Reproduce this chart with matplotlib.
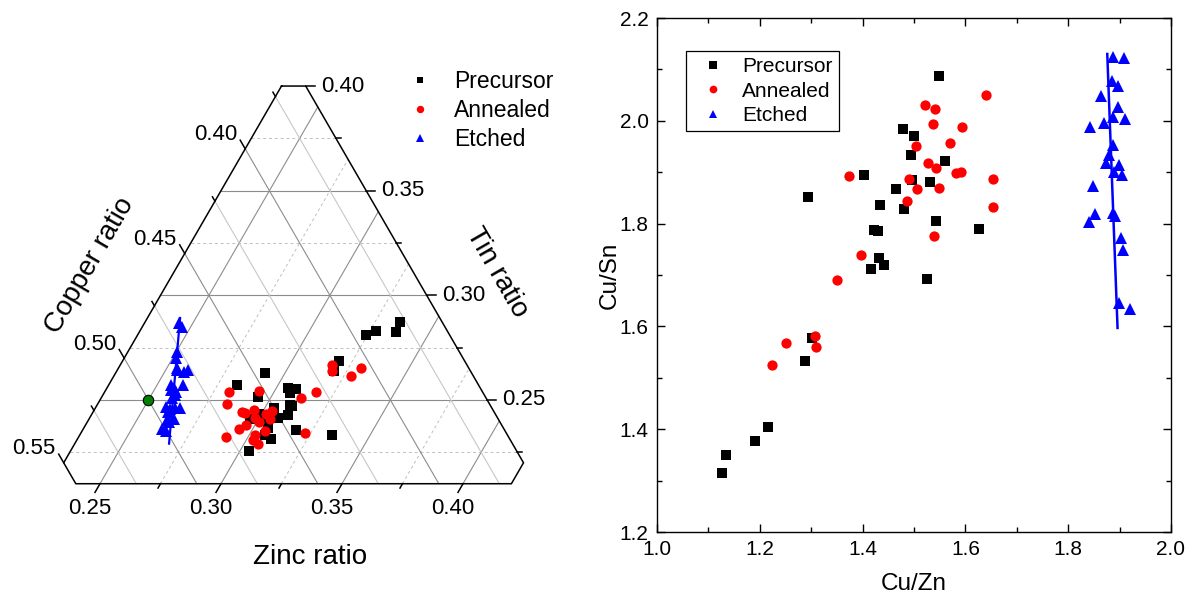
import numpy as np
import matplotlib
matplotlib.use('Agg')
import matplotlib.pyplot as plt
from matplotlib.lines import Line2D

plt.rcParams['font.family'] = ['Liberation Sans', 'DejaVu Sans']

# Cu/Zn and Cu/Sn ratios of the films
pre_cu_zn = [1.126, 1.135, 1.190, 1.216, 1.288, 1.301, 1.293, 1.403, 1.416, 1.432, 1.441, 1.422, 1.429,
             1.434, 1.465, 1.480, 1.478, 1.500, 1.494, 1.496, 1.532, 1.526, 1.543, 1.560, 1.549, 1.626]
pre_cu_sn = [1.314, 1.349, 1.377, 1.404, 1.533, 1.578, 1.852, 1.895, 1.711, 1.734, 1.719, 1.787, 1.786,
             1.837, 1.867, 1.829, 1.984, 1.971, 1.934, 1.884, 1.881, 1.692, 1.806, 1.922, 2.087, 1.790]
ann_cu_zn = [1.224, 1.251, 1.307, 1.310, 1.351, 1.374, 1.397, 1.487, 1.490, 1.505, 1.504, 1.521, 1.528,
             1.536, 1.541, 1.543, 1.549, 1.539, 1.571, 1.582, 1.592, 1.594, 1.640, 1.654, 1.653]
ann_cu_sn = [1.525, 1.568, 1.582, 1.559, 1.690, 1.892, 1.739, 1.843, 1.886, 1.867, 1.951, 2.031, 1.917,
             1.993, 2.022, 1.908, 1.869, 1.776, 1.956, 1.899, 1.901, 1.987, 2.050, 1.887, 1.832]
etc_cu_zn = [1.840, 1.853, 1.849, 1.843, 1.864, 1.869, 1.874, 1.879, 1.885, 1.888, 1.896, 1.909, 1.896,
             1.888, 1.910, 1.888, 1.899, 1.904, 1.890, 1.887, 1.892, 1.903, 1.906, 1.899, 1.921]
etc_cu_sn = [1.803, 1.818, 1.873, 1.987, 2.049, 1.995, 1.917, 1.934, 2.077, 2.125, 2.067, 2.123, 2.027,
             2.008, 2.003, 1.953, 1.914, 1.894, 1.901, 1.821, 1.814, 1.772, 1.748, 1.646, 1.634]
# linear fits of the etched films
fit_cu_zn = [1.876, 1.896]
fit_cu_sn = [2.130, 1.597]
tern_fit_cu_zn = [1.866, 1.919]
tern_fit_cu_sn = [2.190, 1.616]
# stoichiometric Cu2ZnSnS4
stoich_cu_zn = [2.0]
stoich_cu_sn = [2.0]

labels = ['Precursor', 'Annealed', 'Etched']

# ternary ranges
zn_min, zn_max = 0.23, 0.42
sn_min, sn_max = 0.21, 0.40
cu_min, cu_max = 0.36, 0.55
zn_major = [0.25, 0.30, 0.35, 0.40]
zn_minor = [0.275, 0.325, 0.375]
sn_major = [0.25, 0.30, 0.35, 0.40]
sn_minor = [0.225, 0.275, 0.325, 0.375]
cu_major = [0.40, 0.45, 0.50, 0.55]
cu_minor = [0.375, 0.425, 0.475, 0.525]

W, H = 1193, 596
PXX, PXY = 2420.0, 2093.0  # pixels per unit in the ternary panel


def ratios_to_xy(cu_zn, cu_sn):
    a = np.asarray(cu_zn, float)
    b = np.asarray(cu_sn, float)
    cu = 1.0 / (1.0 + 1.0 / a + 1.0 / b)
    zn = cu / a
    sn = cu / b
    return zn + sn / 2.0, sn


def comp_xy(zn, sn):
    return zn + sn / 2.0, sn


def shift(pt, dx, dy):
    # dx, dy in pixels (y up)
    return pt[0] + dx / PXX, pt[1] + dy / PXY


MS_S, MS_O, MS_T = 6.8, 7.4, 8.2

fig = plt.figure(figsize=(W / 100, H / 100), dpi=100)

# ---------------- ternary panel ----------------
ax = fig.add_axes([0, 0, 0.5, 1])
x0 = 0.355 - 100 / PXX
ax.set_xlim(x0, x0 + 0.5 * W / PXX)
ax.set_ylim(0.25 - 196 / PXY, 0.25 + 400 / PXY)
ax.axis('off')

major_c = '0.55'
for s in sn_major[:-1]:
    p, q = comp_xy(zn_min, s), comp_xy(1 - cu_min - s, s)
    ax.plot([p[0], q[0]], [p[1], q[1]], color=major_c, lw=0.8, zorder=1)
for s in sn_minor:
    p, q = comp_xy(zn_min, s), comp_xy(1 - cu_min - s, s)
    ax.plot([p[0], q[0]], [p[1], q[1]], color='0.75', lw=0.7, ls=(0, (3, 3)), zorder=1)
for z in zn_major:
    p, q = comp_xy(z, sn_min), comp_xy(z, 1 - cu_min - z)
    ax.plot([p[0], q[0]], [p[1], q[1]], color=major_c, lw=0.8, zorder=1)
for z in zn_minor:
    p, q = comp_xy(z, sn_min), comp_xy(z, 1 - cu_min - z)
    ax.plot([p[0], q[0]], [p[1], q[1]], color='0.75', lw=0.7, ls=(0, (3, 3)), zorder=1)
for c in cu_major[:-1]:
    p, q = comp_xy(zn_min, 1 - c - zn_min), comp_xy(1 - c - sn_min, sn_min)
    ax.plot([p[0], q[0]], [p[1], q[1]], color=major_c, lw=0.8, zorder=1)
for c in cu_minor:
    p, q = comp_xy(zn_min, 1 - c - zn_min), comp_xy(1 - c - sn_min, sn_min)
    ax.plot([p[0], q[0]], [p[1], q[1]], color='0.78', lw=0.8, zorder=1)

# border
hexa = [(zn_min, sn_max), (1 - sn_max - cu_min, sn_max), (zn_max, 1 - zn_max - cu_min),
        (zn_max, sn_min), (1 - sn_min - cu_max, sn_min), (zn_min, 1 - zn_min - cu_max),
        (zn_min, sn_max)]
hx = [comp_xy(*v)[0] for v in hexa]
hy = [comp_xy(*v)[1] for v in hexa]
ax.plot(hx, hy, color='k', lw=1.1, zorder=5, solid_joinstyle='miter')

tick_kw = dict(color='k', lw=1.1, zorder=5)
# tin ticks (right edge)
for s in sn_major + sn_minor:
    p = comp_xy(1 - cu_min - s, s)
    ln = 9 if s in sn_major else 5
    q = shift(p, ln, 0)
    ax.plot([p[0], q[0]], [p[1], q[1]], **tick_kw)
for s in sn_major:
    p = shift(comp_xy(1 - cu_min - s, s), 15, 0)
    ax.text(p[0], p[1], '%.2f' % s, fontsize=16, ha='left', va='center')
# zinc ticks (bottom)
for z in zn_major + zn_minor:
    p = comp_xy(z, sn_min)
    ln = 10 if z in zn_major else 5
    q = shift(p, -0.5 * ln, -0.866 * ln)
    ax.plot([p[0], q[0]], [p[1], q[1]], **tick_kw)
for z in zn_major:
    p = shift(comp_xy(z, sn_min), -10, -25)
    ax.text(p[0], p[1], '%.2f' % z, fontsize=16, ha='center', va='center')
# copper ticks (left edge)
for c in cu_major + cu_minor:
    p = comp_xy(zn_min, 1 - c - zn_min)
    ln = 10 if c in cu_major else 5
    q = shift(p, -0.5 * ln, 0.866 * ln)
    ax.plot([p[0], q[0]], [p[1], q[1]], **tick_kw)
for c in cu_major:
    p = shift(comp_xy(zn_min, 1 - c - zn_min), -8, 14)
    ax.text(p[0], p[1], '%.2f' % c, fontsize=16, ha='right', va='center')

# data
px, py = ratios_to_xy(pre_cu_zn, pre_cu_sn)
ax.plot(px, py, 's', color='k', ms=MS_S, mew=0, zorder=6)
px, py = ratios_to_xy(ann_cu_zn, ann_cu_sn)
ax.plot(px, py, 'o', color='#ff0000', ms=MS_O, mew=0, zorder=6)
px, py = ratios_to_xy(etc_cu_zn, etc_cu_sn)
ax.plot(px, py, '^', color='#0000ff', ms=MS_T, mew=0, zorder=6)
px, py = ratios_to_xy(tern_fit_cu_zn, tern_fit_cu_sn)
ax.plot(px, py, '-', color='#0000ff', lw=1.6, zorder=6)
px, py = ratios_to_xy(stoich_cu_zn, stoich_cu_sn)
ax.plot(px, py, 'o', color='#007f00', mec='k', mew=0.8, ms=7.5, zorder=7)

fig.text(310 / W, 1 - 557 / H, 'Zinc ratio', fontsize=20, ha='center', va='center')
fig.text(90 / W, 1 - 266 / H, 'Copper ratio', fontsize=20, ha='center', va='center', rotation=60)
fig.text(497 / W, 1 - 272 / H, 'Tin ratio', fontsize=20, ha='center', va='center', rotation=-60)

handles = [Line2D([], [], ls='none', marker='s', color='k', ms=MS_S, mew=0),
           Line2D([], [], ls='none', marker='o', color='#ff0000', ms=MS_O, mew=0),
           Line2D([], [], ls='none', marker='^', color='#0000ff', ms=MS_T, mew=0)]
fig.legend(handles, labels, loc='upper left', bbox_to_anchor=(409 / W, 1 - 70 / H),
           frameon=False, fontsize=16.5, handlelength=1.0, handletextpad=0.95,
           borderpad=0, borderaxespad=0, labelspacing=0.26, markerscale=0.72)

# ---------------- Cu/Sn vs Cu/Zn panel ----------------
ax2 = fig.add_axes([657 / W, 1 - 532 / H, 514 / W, 514 / H])
ax2.plot(pre_cu_zn, pre_cu_sn, 's', color='k', ms=MS_S, mew=0, label=labels[0])
ax2.plot(ann_cu_zn, ann_cu_sn, 'o', color='#ff0000', ms=MS_O, mew=0, label=labels[1])
ax2.plot(etc_cu_zn, etc_cu_sn, '^', color='#0000ff', ms=MS_T, mew=0, label=labels[2])
ax2.plot(fit_cu_zn, fit_cu_sn, '-', color='#0000ff', lw=1.8)
ax2.set_xlim(1.0, 2.0)
ax2.set_ylim(1.2, 2.2)
ax2.set_xticks(np.arange(1.0, 2.01, 0.2))
ax2.set_yticks(np.arange(1.2, 2.21, 0.2))
ax2.set_xticks(np.arange(1.1, 2.0, 0.2), minor=True)
ax2.set_yticks(np.arange(1.3, 2.2, 0.2), minor=True)
ax2.xaxis.set_major_formatter(matplotlib.ticker.FormatStrFormatter('%.1f'))
ax2.yaxis.set_major_formatter(matplotlib.ticker.FormatStrFormatter('%.1f'))
ax2.tick_params(which='both', direction='in', top=True, right=True, width=1.0)
ax2.tick_params(which='major', length=6, labelsize=15, pad=6)
ax2.tick_params(which='minor', length=3.5)
for sp in ax2.spines.values():
    sp.set_linewidth(1.0)
ax2.set_xlabel('Cu/Zn', fontsize=17.5)
ax2.set_ylabel('Cu/Sn', fontsize=17.5)
ax2.xaxis.set_label_coords(0.5, -0.08)
ax2.yaxis.set_label_coords(-0.07, 0.5)
leg = ax2.legend(loc='upper left', bbox_to_anchor=(686 / W, 1 - 51 / H), bbox_transform=fig.transFigure,
                 fontsize=15, handlelength=2.0, handletextpad=0.4, borderpad=0.3, borderaxespad=0,
                 labelspacing=0.26, markerscale=0.75, fancybox=False, framealpha=1, edgecolor='k')
leg.get_frame().set_linewidth(0.9)

fig.savefig('out.png', dpi=100)
